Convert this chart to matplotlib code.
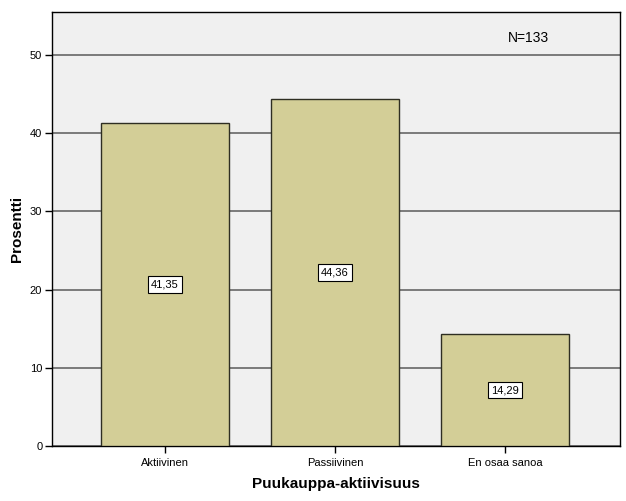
import matplotlib
matplotlib.use("Agg")
import matplotlib.pyplot as plt

# Puukauppa-aktiivisuus, prosenttiosuudet (N=133)
categories = ["Aktiivinen", "Passiivinen", "En osaa sanoa"]
percents = [41.35, 44.36, 14.29]
value_labels = ["41,35", "44,36", "14,29"]
y_ticks = [0, 10, 20, 30, 40, 50]

plt.rcParams["font.family"] = ["Liberation Sans", "DejaVu Sans"]

fig = plt.figure(figsize=(6.26, 5.01), dpi=100)
ax = fig.add_axes([0.0831, 0.1098, 0.9073, 0.8663])
ax.set_facecolor("#f0f0f0")

x = list(range(len(categories)))
ax.bar(x, percents, width=0.753, color="#d3ce97", edgecolor="#2e2e22",
       linewidth=1.0, zorder=3)

# arvolaatikot pylväiden keskelle
for xi, v, lab in zip(x, percents, value_labels):
    ax.text(xi, v / 2, lab, ha="center", va="center", fontsize=8, zorder=4,
            bbox=dict(boxstyle="square,pad=0.3", facecolor="white",
                      edgecolor="black", linewidth=0.8))

ax.set_xlim(-0.665, 2.676)
ax.set_ylim(0, 55.5)
ax.set_yticks(y_ticks)
ax.set_xticks(x)
ax.set_xticklabels(categories, fontsize=8)
ax.tick_params(axis="y", labelsize=8, length=5, width=1, direction="out", pad=2)
ax.tick_params(axis="x", length=5, width=1, direction="out", pad=4)

ax.yaxis.grid(True, color="#5a5a5a", linewidth=1.1, zorder=1)
ax.set_axisbelow(True)
for s in ax.spines.values():
    s.set_color("black")
    s.set_linewidth(1.0)

ax.set_xlabel("Puukauppa-aktiivisuus", fontsize=11, fontweight="bold", labelpad=6)
ax.set_ylabel("Prosentti", fontsize=11, fontweight="bold", labelpad=4)

ax.text(0.838, 0.94, "N=133", transform=ax.transAxes, ha="center", va="center",
        fontsize=10)

fig.savefig("out.png", dpi=100)
